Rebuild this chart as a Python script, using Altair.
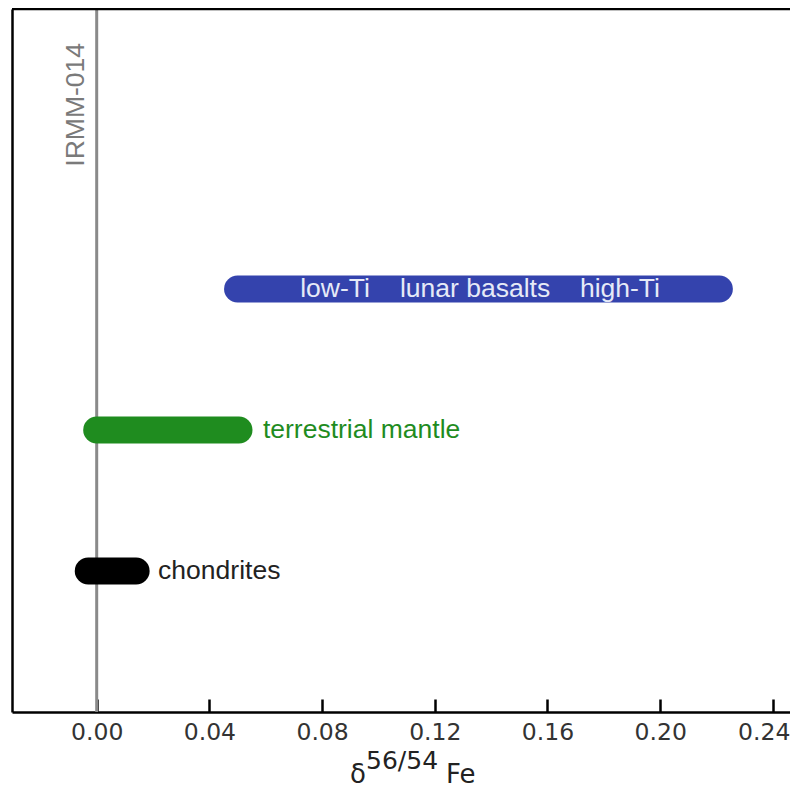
import altair as alt
import pandas as pd

# Bars (ranges of delta 56/54 Fe)
groups = ["chondrites", "terrestrial mantle", "lunar basalts"]
x_start = [-0.003, 0.0, 0.050]
x_end = [0.014, 0.0505, 0.221]
rows = [1, 2, 3]
bar_colors = ["#000000", "#1f8c1f", "#3443ad"]

# Labels beside the bars
side_text = ["chondrites", "terrestrial mantle"]
side_x = [0.0218, 0.0590]
side_y = [1, 2]
side_colors = ["#222222", "#1f8c1f"]

# Labels inside the lunar bar
inner_text = ["low-Ti", "lunar basalts", "high-Ti"]
inner_x = [0.0846, 0.1343, 0.1857]
inner_y = [3, 3, 3]

# Reference standard
ref_name = ["IRMM-014"]
ref_x = [0.0]
ref_label_x = [-0.0072]
ref_label_y = [4.745]

tick_values = [0.0, 0.04, 0.08, 0.12, 0.16, 0.20, 0.24]

W, H = 778, 703
xdom = [-0.03006, 0.24607]
ydom = [0, 4.986]

bars = pd.DataFrame({"group": groups, "x0": x_start, "x1": x_end,
                     "row": rows, "color": bar_colors})
side = pd.DataFrame({"text": side_text, "x": side_x, "row": side_y, "color": side_colors})
inner = pd.DataFrame({"text": inner_text, "x": inner_x, "row": inner_y})
ref = pd.DataFrame({"name": ref_name, "x": ref_x, "lx": ref_label_x, "ly": ref_label_y})

xs = alt.Scale(domain=xdom, nice=False, zero=False)
ys = alt.Scale(domain=ydom, nice=False, zero=False)

ref_line = alt.Chart(ref).mark_rule(color="#8a8a8a", strokeWidth=3).encode(
    x=alt.X("x:Q", scale=xs, axis=alt.Axis(
        orient="top", offset=-H, values=tick_values, ticks=True, tickSize=13,
        tickWidth=2.5, tickColor="#000000", labels=False, domain=False,
        grid=False, title=None)),
)

bar_layer = alt.Chart(bars).mark_rule(strokeWidth=27, strokeCap="round").encode(
    x=alt.X("x0:Q", scale=xs, axis=alt.Axis(
        orient="bottom", values=tick_values, format=".2f", ticks=False,
        domain=True, domainColor="#000000", domainWidth=2.5,
        labelFont="DejaVu Sans", labelFontSize=23.5, labelColor="#333333",
        labelPadding=8, labelFlush=20, labelFlushOffset=17,
        grid=False, title=None)),
    x2="x1:Q",
    y=alt.Y("row:Q", scale=ys, axis=alt.Axis(
        domain=True, domainColor="#000000", domainWidth=2.5, ticks=False,
        labels=False, grid=False, title=None)),
    color=alt.Color("color:N", scale=None),
)

side_layer = alt.Chart(side).mark_text(
    align="left", baseline="middle", font="Liberation Sans", fontSize=26.5
).encode(
    x=alt.X("x:Q", scale=xs, axis=None),
    y=alt.Y("row:Q", scale=ys, axis=None),
    text="text:N",
    color=alt.Color("color:N", scale=None),
)

inner_layer = alt.Chart(inner).mark_text(
    align="center", baseline="middle", font="Liberation Sans", fontSize=26.5,
    color="#e6eaf7"
).encode(
    x=alt.X("x:Q", scale=xs, axis=None),
    y=alt.Y("row:Q", scale=ys, axis=None),
    text="text:N",
)

ref_label = alt.Chart(ref).mark_text(
    angle=270, align="right", baseline="middle", font="Liberation Sans",
    fontSize=26.5, color="#7a7a7a"
).encode(
    x=alt.X("lx:Q", scale=xs, axis=None),
    y=alt.Y("ly:Q", scale=ys, axis=None),
    text="name:N",
)

top_frame = alt.Chart(ref).mark_rule(color="#000000", strokeWidth=2.5).encode(
    x=alt.value(0), x2=alt.value(W), y=alt.value(0)
)

title_font = "DejaVu Sans"
t_delta = alt.Chart(ref).mark_text(
    align="left", baseline="alphabetic", font=title_font, fontSize=26, color="#222222"
).encode(x=alt.value(338), y=alt.value(774), text=alt.value("δ"))
t_sup = alt.Chart(ref).mark_text(
    align="left", baseline="alphabetic", font=title_font, fontSize=25, color="#222222"
).encode(x=alt.value(354), y=alt.value(760), text=alt.value("56/54"))
t_fe = alt.Chart(ref).mark_text(
    align="left", baseline="alphabetic", font=title_font, fontSize=26, color="#222222"
).encode(x=alt.value(434), y=alt.value(774), text=alt.value("Fe"))

chart = alt.layer(
    ref_line, bar_layer, side_layer, inner_layer, ref_label, top_frame,
    t_delta, t_sup, t_fe
).resolve_axis(x="independent", y="independent").properties(
    width=W, height=H,
    autosize=alt.AutoSizeParams(type="none"),
    padding={"left": 4, "top": 1, "right": 0, "bottom": 78},
).configure_view(stroke=None).configure_axis(grid=False)

chart.save("out.html", embed_options={"renderer": "svg", "actions": False})
